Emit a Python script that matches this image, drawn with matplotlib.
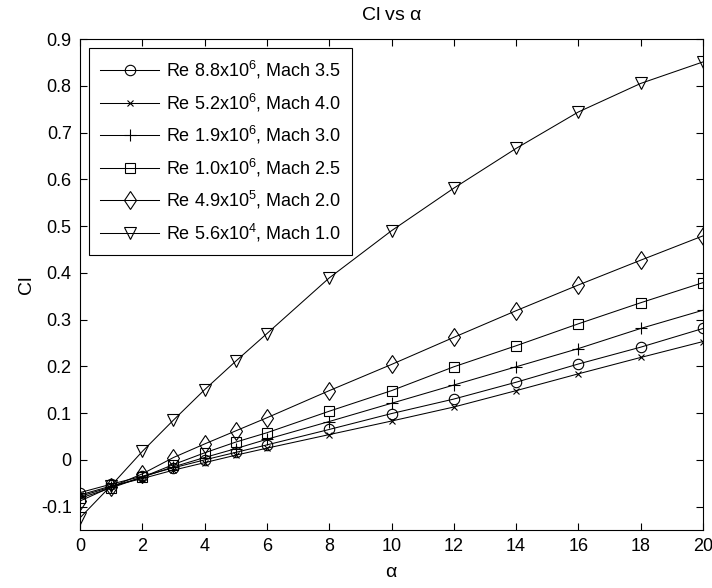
import matplotlib
matplotlib.use("Agg")
import matplotlib.pyplot as plt

plt.rcParams['font.family'] = ['Liberation Sans', 'DejaVu Sans']
plt.rcParams['mathtext.default'] = 'regular'

alfa = [0, 1, 2, 3, 4, 5, 6, 8, 10, 12, 14, 16, 18, 20]

cl_m35 = [-0.070, -0.052, -0.035, -0.017, 0.000, 0.016, 0.032, 0.065, 0.099, 0.130, 0.166, 0.205, 0.241, 0.281]
cl_m40 = [-0.075, -0.056, -0.040, -0.022, -0.006, 0.010, 0.025, 0.054, 0.083, 0.113, 0.148, 0.184, 0.219, 0.253]
cl_m30 = [-0.078, -0.058, -0.037, -0.015, 0.005, 0.024, 0.044, 0.082, 0.121, 0.160, 0.199, 0.238, 0.281, 0.320]
cl_m25 = [-0.082, -0.060, -0.037, -0.010, 0.015, 0.038, 0.058, 0.104, 0.148, 0.199, 0.244, 0.291, 0.336, 0.379]
cl_m20 = [-0.088, -0.058, -0.030, 0.005, 0.034, 0.062, 0.090, 0.148, 0.204, 0.262, 0.319, 0.374, 0.427, 0.479]
cl_m10 = [-0.124, -0.055, 0.018, 0.085, 0.150, 0.211, 0.270, 0.389, 0.490, 0.581, 0.666, 0.744, 0.805, 0.851]

oznake = [r'Re 8.8x10$^{6}$, Mach 3.5', r'Re 5.2x10$^{6}$, Mach 4.0', r'Re 1.9x10$^{6}$, Mach 3.0',
          r'Re 1.0x10$^{6}$, Mach 2.5', r'Re 4.9x10$^{5}$, Mach 2.0', r'Re 5.6x10$^{4}$, Mach 1.0']
markeri = ['o', 'x', '+', 's', 'd', 'v']
velicine = [7.5, 4.5, 8.5, 7.5, 9.5, 8.5]
serije = [cl_m35, cl_m40, cl_m30, cl_m25, cl_m20, cl_m10]

fig = plt.figure(figsize=(7.12, 5.88), dpi=100)
ax = fig.add_axes([80 / 712, 58 / 588, 623 / 712, 491 / 588])

for cl, m, ms, lab in zip(serije, markeri, velicine, oznake):
    ax.plot(alfa, cl, color='black', linewidth=0.75, marker=m, markersize=ms,
            markerfacecolor='none', markeredgecolor='black', markeredgewidth=0.8, label=lab)

ax.set_xlim(0, 20)
ax.set_ylim(-0.15, 0.9)
ax.set_xticks(range(0, 21, 2))
ax.set_yticks([-0.1, 0, 0.1, 0.2, 0.3, 0.4, 0.5, 0.6, 0.7, 0.8, 0.9])
ax.set_yticklabels(['-0.1', '0', '0.1', '0.2', '0.3', '0.4', '0.5', '0.6', '0.7', '0.8', '0.9'])
ax.tick_params(direction='in', top=True, right=True, labelsize=13, length=5, pad=6, width=0.8)
for s in ax.spines.values():
    s.set_linewidth(0.8)
ax.set_xlabel(r'$\alpha$', fontsize=14, labelpad=6)
ax.set_ylabel('Cl', fontsize=14, labelpad=4)
ax.set_title(r'Cl vs $\alpha$', fontsize=14, pad=14)

leg = ax.legend(loc='upper left', fontsize=13, handlelength=3.3, labelspacing=0.58,
                fancybox=False, edgecolor='black', framealpha=1, borderaxespad=0.5,
                borderpad=0.6, handletextpad=0.35)
leg.get_frame().set_linewidth(0.8)

fig.savefig('out.png', dpi=100)
